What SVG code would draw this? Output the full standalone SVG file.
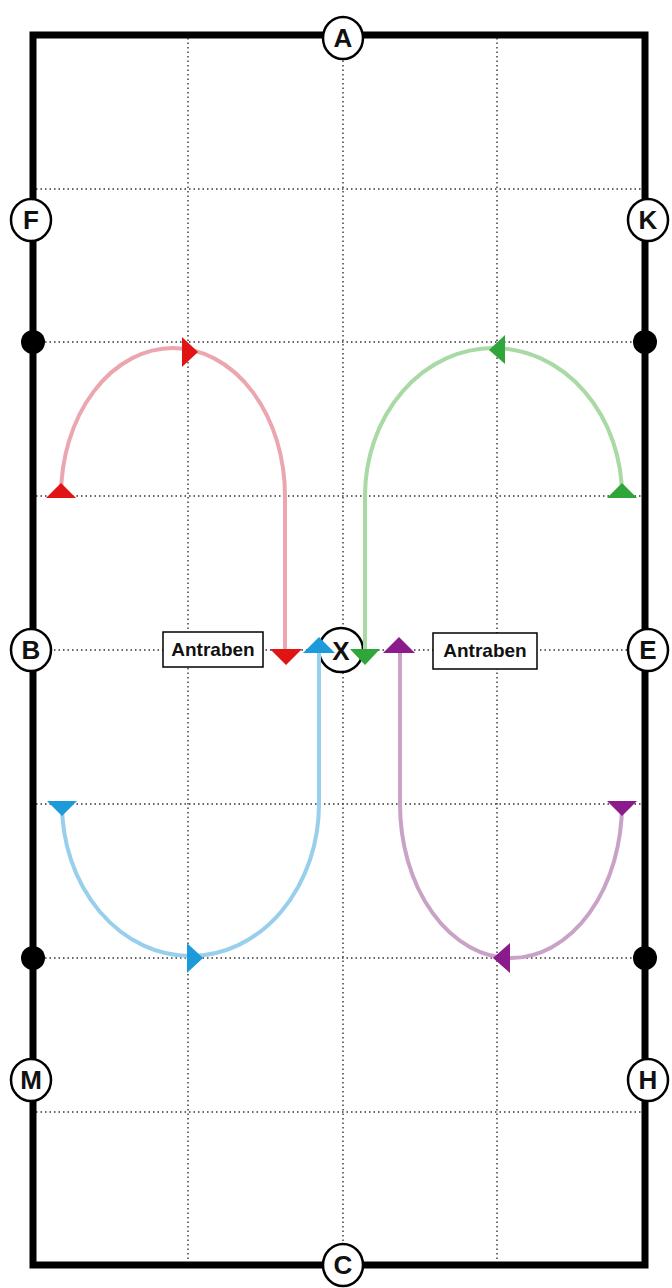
<svg xmlns="http://www.w3.org/2000/svg" width="672" height="1288" viewBox="0 0 672 1288">
<style>
.grid{stroke:#333;stroke-width:1.4;stroke-dasharray:1.5 3;fill:none}
.arena{fill:none;stroke:#000;stroke-width:7}
.letter circle,.letter ellipse{fill:#fff;stroke:#000;stroke-width:2.5}
.letter text{font-family:"Liberation Sans",Arial,sans-serif;font-weight:bold;font-size:26px;text-anchor:middle;fill:#111}
.dot{fill:#000}
.box rect{fill:#fff;stroke:#000;stroke-width:1.5}
.box text{font-family:"Liberation Sans",Arial,sans-serif;font-weight:bold;font-size:19px;text-anchor:middle;fill:#111}
.p{fill:none;stroke-width:4}
.red .p{stroke:#eba6b0}.red polygon{fill:#e01414}
.green .p{stroke:#a9d9a4}.green polygon{fill:#2fa53a}
.blue .p{stroke:#98cfec}.blue polygon{fill:#1c9ad9}
.purple .p{stroke:#c9a2c6}.purple polygon{fill:#8b1a8c}
</style>
<rect width="672" height="1288" fill="#fff"/>
<g id="grid">
<line class="grid" x1="188" y1="38" x2="188" y2="1262"/>
<line class="grid" x1="343" y1="38" x2="343" y2="1262"/>
<line class="grid" x1="497" y1="38" x2="497" y2="1262"/>
<line class="grid" x1="36" y1="189" x2="642" y2="189"/>
<line class="grid" x1="36" y1="342" x2="642" y2="342"/>
<line class="grid" x1="36" y1="496" x2="642" y2="496"/>
<line class="grid" x1="36" y1="650" x2="642" y2="650"/>
<line class="grid" x1="36" y1="804" x2="642" y2="804"/>
<line class="grid" x1="36" y1="958" x2="642" y2="958"/>
<line class="grid" x1="36" y1="1112" x2="642" y2="1112"/>
</g>
<rect id="arena" class="arena" x="33" y="35" width="612" height="1230"/>
<g id="dots">
<circle class="dot" cx="33" cy="342" r="12"/>
<circle class="dot" cx="645" cy="342" r="12"/>
<circle class="dot" cx="33" cy="958" r="12"/>
<circle class="dot" cx="645" cy="958" r="12"/>
</g>
<g id="node-A" class="letter"><ellipse cx="343" cy="38" rx="20" ry="21"/><text x="343" y="47">A</text></g>
<g id="node-C" class="letter"><ellipse cx="343" cy="1265" rx="20" ry="21"/><text x="343" y="1274">C</text></g>
<g id="node-F" class="letter"><ellipse cx="31" cy="220" rx="20" ry="21"/><text x="31" y="229">F</text></g>
<g id="node-K" class="letter"><ellipse cx="648" cy="220" rx="20" ry="21"/><text x="648" y="229">K</text></g>
<g id="node-B" class="letter"><ellipse cx="31" cy="650" rx="20" ry="21"/><text x="31" y="659">B</text></g>
<g id="node-E" class="letter"><ellipse cx="648" cy="650" rx="20" ry="21"/><text x="648" y="659">E</text></g>
<g id="node-M" class="letter"><ellipse cx="31" cy="1080" rx="20" ry="21"/><text x="31" y="1089">M</text></g>
<g id="node-H" class="letter"><ellipse cx="648" cy="1080" rx="20" ry="21"/><text x="648" y="1089">H</text></g>
<g id="node-X" class="letter"><circle cx="341" cy="650" r="22"/><text x="341" y="660" font-size="28">X</text></g>
<g id="label-left" class="box"><rect x="163" y="632" width="100" height="35"/><text x="213" y="656">Antraben</text></g>
<g id="label-right" class="box"><rect x="433" y="633" width="104" height="36"/><text x="485" y="657">Antraben</text></g>
<g id="connectors">
<g class="red">
<path class="p" d="M61 490 L61 496 A112 148 0 0 1 285 496 L285 650"/>
<polygon points="46,498 76,498 61,483"/>
<polygon points="182,337 182,367 198,352"/>
<polygon points="270,649 302,649 286,665"/>
</g>
<g class="green">
<path class="p" d="M622 490 L622 496 A128.5 148 0 0 0 365 496 L365 650"/>
<polygon points="607,498 637,498 622,483"/>
<polygon points="505,335 505,364 489,350"/>
<polygon points="350,649 380,649 365,665"/>
</g>
<g class="blue">
<path class="p" d="M62 810 L62 804 A128.5 152 0 0 0 319 804 L319 650"/>
<polygon points="47,801 77,801 62,816"/>
<polygon points="187,943 187,973 203,958"/>
<polygon points="303,653 335,653 319,637"/>
</g>
<g class="purple">
<path class="p" d="M622 810 L622 804 A111 154 0 0 1 400 804 L400 650"/>
<polygon points="607,801 637,801 622,816"/>
<polygon points="510,943 510,973 493,958"/>
<polygon points="383,653 415,653 399,637"/>
</g>
</g>
</svg>
